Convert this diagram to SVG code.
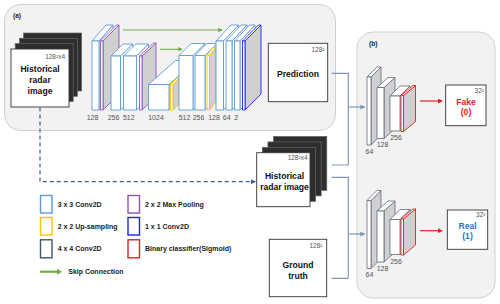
<svg xmlns="http://www.w3.org/2000/svg" width="500" height="304" viewBox="0 0 500 304">
<defs>
<style>
text{font-family:"Liberation Sans",Arial,sans-serif;}
.panel{fill:#f2f2f2;stroke:#cfcfcf;stroke-width:1;}
.lbl{font-size:6.6px;font-weight:bold;fill:#222;}
.num{font-size:7px;fill:#555;text-anchor:middle;}
.sup{font-size:6.5px;fill:#555;text-anchor:end;}
.big{font-size:8.6px;font-weight:bold;fill:#111;text-anchor:middle;}
.box{fill:#fff;stroke:#333;stroke-width:0.9;}
.layer{fill:#2e2e2e;stroke:#666;stroke-width:0.7;}
.c3{fill:#fff;stroke:#5b9bd5;stroke-width:0.9;stroke-linejoin:round;}
.mp{fill:#fff;stroke:#8e54b8;stroke-width:0.9;stroke-linejoin:round;}
.up{fill:#fff;stroke:#ffc000;stroke-width:0.9;stroke-linejoin:round;}
.c1{fill:#fff;stroke:#1f1fff;stroke-width:0.9;stroke-linejoin:round;}
.c4{fill:#fff;stroke:#5f6b78;stroke-width:0.8;stroke-linejoin:round;}
.bc{fill:#fff;stroke:#e02020;stroke-width:0.9;stroke-linejoin:round;}
.g{fill:#d0d0d0;}
.conn{fill:none;stroke:#7f97b5;stroke-width:1.2;}
.leg{fill:#fff;stroke-width:1.4;}
.legt{font-size:7px;font-weight:bold;fill:#222;}
</style>
<marker id="ab" viewBox="0 0 6 6" refX="5" refY="3" markerWidth="5" markerHeight="5" orient="auto" markerUnits="userSpaceOnUse"><path d="M0,0 L6,3 L0,6 z" fill="#7f97b5"/></marker>
<marker id="ad" viewBox="0 0 6 6" refX="5" refY="3" markerWidth="5" markerHeight="5" orient="auto" markerUnits="userSpaceOnUse"><path d="M0,0 L6,3 L0,6 z" fill="#3b5f8a"/></marker>
<marker id="ag" viewBox="0 0 6 6" refX="5" refY="3" markerWidth="4.5" markerHeight="4.5" orient="auto" markerUnits="userSpaceOnUse"><path d="M0,0 L6,3 L0,6 z" fill="#70ad47"/></marker>
<marker id="ar" viewBox="0 0 6 6" refX="5" refY="3" markerWidth="5" markerHeight="5" orient="auto" markerUnits="userSpaceOnUse"><path d="M0,0 L6,3 L0,6 z" fill="#e02020"/></marker>
</defs>
<rect width="500" height="304" fill="#fff"/>

<g id="panel-a">
<rect class="panel" x="4.5" y="4.5" width="331" height="126" rx="16"/>
<text x="13" y="18" class="lbl">(a)</text>
</g>
<g id="panel-b">
<rect class="panel" x="357" y="32" width="138" height="266" rx="16"/>
<text x="369" y="46" class="lbl">(b)</text>
</g>

<g id="radar-input">
<rect class="layer" x="23.6" y="33" width="58" height="58"/>
<rect class="layer" x="19.4" y="38.3" width="58" height="58"/>
<rect class="layer" x="15.2" y="43.6" width="58" height="58"/>
<rect class="box" x="11" y="49" width="58" height="58"/>
<text x="65" y="59" class="sup">128²x4</text>
<text x="40" y="71.5" class="big" font-size="9">Historical</text>
<text x="40" y="83" class="big" font-size="9">radar</text>
<text x="40" y="94" class="big" font-size="9">image</text>
</g>

<g id="unet">
<g class="c3"><polygon points="99,41 113,25 113,94 99,110"/><polygon points="92,41 99,41 113,25 106,25"/><rect x="92" y="41" width="7" height="69"/></g>
<g class="mp"><polygon class="g" points="103,41 119,25 119,94 103,110"/><polygon points="100.5,41 103,41 119,25 116.5,25"/><rect x="100.5" y="41" width="2.5" height="69"/></g>
<g class="c3"><polygon points="120.5,56 132.5,44 132.5,98 120.5,110"/><polygon points="111,56 120.5,56 132.5,44 123,44"/><rect x="111" y="56" width="9.5" height="54"/></g>
<g class="c3"><polygon points="136.5,56 148.5,44 148.5,98 136.5,110"/><polygon points="123.5,56 136.5,56 148.5,44 135.5,44"/><rect x="123.5" y="56" width="13" height="54"/></g>
<g class="mp"><polygon class="g" points="142,56 156,43 156,97 142,110"/><polygon points="139.5,56 142,56 156,43 153.5,43"/><rect x="139.5" y="56" width="2.5" height="54"/></g>
<g class="c3"><polygon points="169,84.5 196,60.5 196,86 169,110"/><polygon points="148.5,84.5 169,84.5 196,60.5 175.5,60.5"/><rect x="148.5" y="84.5" width="20.5" height="25.5"/></g>
<g class="up"><polygon class="g" points="173,84.5 179,78.5 179,104 173,110"/><polygon points="170.5,84.5 173,84.5 179,78.5 176.5,78.5"/><rect x="170.5" y="84.5" width="2.5" height="25.5"/></g>
<g class="c3"><polygon points="193,55.5 205,43.5 205,98 193,110"/><polygon points="179,55.5 193,55.5 205,43.5 191,43.5"/><rect x="179" y="55.5" width="14" height="54.5"/></g>
<g class="c3"><polygon points="205,55.5 217,43.5 217,98 205,110"/><polygon points="195,55.5 205,55.5 217,43.5 207,43.5"/><rect x="195" y="55.5" width="10" height="54.5"/></g>
<g class="up"><polygon class="g" points="209.5,55.5 215.5,47.5 215.5,102 209.5,110"/><polygon points="207,55.5 209.5,55.5 215.5,47.5 213,47.5"/><rect x="207" y="55.5" width="2.5" height="54.5"/></g>
<g class="c3"><polygon points="223.5,41 238.5,25 238.5,94 223.5,110"/><polygon points="216,41 223.5,41 238.5,25 231,25"/><rect x="216" y="41" width="7.5" height="69"/></g>
<g class="c3"><polygon points="232,41 247,25 247,94 232,110"/><polygon points="226,41 232,41 247,25 241,25"/><rect x="226" y="41" width="6" height="69"/></g>
<g class="c3"><polygon points="240,41 255,25 255,94 240,110"/><polygon points="234.5,41 240,41 255,25 249.5,25"/><rect x="234.5" y="41" width="5.5" height="69"/></g>
<g class="c1"><polygon class="g" points="245,41 261,25 261,94 245,110"/><polygon points="242.5,41 245,41 261,25 258.5,25"/><rect x="242.5" y="41" width="2.5" height="69"/></g>
<g>
<text x="92.5" y="120" class="num">128</text>
<text x="113.5" y="120" class="num">256</text>
<text x="128.8" y="120" class="num">512</text>
<text x="156" y="120" class="num">1024</text>
<text x="184.5" y="120" class="num">512</text>
<text x="198.5" y="120" class="num">256</text>
<text x="214" y="120" class="num">128</text>
<text x="226.7" y="120" class="num">64</text>
<text x="236.3" y="120" class="num">2</text>
</g>
</g>

<g id="skip-connections" fill="none" stroke="#70ad47" stroke-width="1.1">
<line x1="123" y1="30" x2="222" y2="30" marker-end="url(#ag)"/>
<line x1="160" y1="49.3" x2="182" y2="49.3" marker-end="url(#ag)"/>
</g>

<g id="prediction">
<rect class="box" x="268.3" y="43.3" width="59.4" height="58.4"/>
<text x="324.5" y="52" class="sup">128²</text>
<text x="298" y="76.5" class="big">Prediction</text>
</g>

<g id="radar-input-2">
<rect class="layer" x="273.5" y="136.4" width="53.3" height="54"/>
<rect class="layer" x="267.9" y="141.9" width="53.3" height="54"/>
<rect class="layer" x="262.3" y="147.4" width="53.3" height="54"/>
<rect class="box" x="256.7" y="152.7" width="53.3" height="54"/>
<text x="307.5" y="160" class="sup">128²x4</text>
<text x="284.5" y="179" class="big">Historical</text>
<text x="284.5" y="190" class="big">radar image</text>
</g>

<g id="ground-truth">
<rect class="box" x="269.3" y="239.3" width="57.4" height="57.4"/>
<text x="322.5" y="247.5" class="sup">128²</text>
<text x="298" y="268" class="big">Ground</text>
<text x="298" y="278.5" class="big">truth</text>
</g>

<g id="discriminator-1">
<g class="c4"><polygon class="g" points="371,77 381,67 381,135 371,145"/><polygon points="367,77 371,77 381,67 377,67"/><rect x="367" y="77" width="4" height="68"/></g>
<g class="c4"><polygon class="g" points="384,87.5 395,77.5 395,128.5 384,138.5"/><polygon points="377,87.5 384,87.5 395,77.5 388,77.5"/><rect x="377" y="87.5" width="7" height="51"/></g>
<g class="c4"><polygon points="400,96 410,86 410,121 400,131"/><polygon points="390,96 400,96 410,86 400,86"/><rect x="390" y="96" width="10" height="35"/></g>
<g class="bc"><polygon class="g" points="403.5,95.5 415.5,85.5 415.5,121.5 403.5,131.5"/><polygon points="401,95.5 403.5,95.5 415.5,85.5 413,85.5"/><rect x="401" y="95.5" width="2.5" height="36"/></g>
<text x="369.5" y="153.5" class="num">64</text>
<text x="382.5" y="147" class="num">128</text>
<text x="396" y="140" class="num">256</text>
</g>

<g id="discriminator-2" transform="translate(0,123.5)">
<g class="c4"><polygon class="g" points="371,77 381,67 381,135 371,145"/><polygon points="367,77 371,77 381,67 377,67"/><rect x="367" y="77" width="4" height="68"/></g>
<g class="c4"><polygon class="g" points="384,87.5 395,77.5 395,128.5 384,138.5"/><polygon points="377,87.5 384,87.5 395,77.5 388,77.5"/><rect x="377" y="87.5" width="7" height="51"/></g>
<g class="c4"><polygon points="400,96 410,86 410,121 400,131"/><polygon points="390,96 400,96 410,86 400,86"/><rect x="390" y="96" width="10" height="35"/></g>
<g class="bc"><polygon class="g" points="403.5,95.5 415.5,85.5 415.5,121.5 403.5,131.5"/><polygon points="401,95.5 403.5,95.5 415.5,85.5 413,85.5"/><rect x="401" y="95.5" width="2.5" height="36"/></g>
<text x="369.5" y="153.5" class="num">64</text>
<text x="382.5" y="147" class="num">128</text>
<text x="396" y="140" class="num">256</text>
</g>

<g id="fake">
<rect class="box" x="445.7" y="85" width="40.3" height="40.7"/>
<text x="484" y="92.5" class="sup">32²</text>
<text x="466" y="104.5" class="big" fill="#e8202a" style="fill:#e8202a" font-size="8.4">Fake</text>
<text x="466" y="115" class="big" style="fill:#e8202a" font-size="8.4">(0)</text>
</g>

<g id="real">
<rect class="box" x="447.3" y="210" width="40.4" height="39.3"/>
<text x="485.5" y="217" class="sup">32²</text>
<text x="467.5" y="228.5" class="big" style="fill:#1f77d0" font-size="8.4">Real</text>
<text x="467.5" y="239" class="big" style="fill:#1f77d0" font-size="8.4">(1)</text>
</g>

<g id="connectors">
<path class="conn" d="M331.7,73.3 H348.3 V165 M331.7,165 H348.3"/>
<path class="conn" d="M348.3,107 H364.5" marker-end="url(#ab)"/>
<path class="conn" d="M331.7,177.3 H348.3 V278.3 M331.7,278.3 H348.3"/>
<path class="conn" d="M348.3,234 H364.5" marker-end="url(#ab)"/>
<path d="M40,107.5 V181.7 H255" fill="none" stroke="#3b5f8a" stroke-width="1.2" stroke-dasharray="4,3" marker-end="url(#ad)"/>
<path d="M420,101 H442" fill="none" stroke="#e02020" stroke-width="1.2" marker-end="url(#ar)"/>
<path d="M420,230.7 H442" fill="none" stroke="#e02020" stroke-width="1.2" marker-end="url(#ar)"/>
</g>

<g id="legend">
<rect class="leg" x="40.5" y="195.5" width="11.5" height="17.5" stroke="#5b9bd5"/>
<text x="57.7" y="206.5" class="legt">3 x 3 Conv2D</text>
<rect class="leg" x="40.5" y="217.5" width="11.5" height="17.5" stroke="#ffc000"/>
<text x="57.7" y="228.5" class="legt">2 x 2 Up-sampling</text>
<rect class="leg" x="40.5" y="239.8" width="11.5" height="18" stroke="#44546a"/>
<text x="57.7" y="251" class="legt">4 x 4 Conv2D</text>
<rect class="leg" x="128" y="195.5" width="11.5" height="17.5" stroke="#8e54b8"/>
<text x="145" y="206.5" class="legt">2 x 2 Max Pooling</text>
<rect class="leg" x="128" y="217.5" width="11.5" height="17.5" stroke="#1f1fff"/>
<text x="145" y="228.5" class="legt">1 x 1 Conv2D</text>
<rect class="leg" x="128" y="239.8" width="11.5" height="18" stroke="#e02020"/>
<text x="145" y="251" class="legt">Binary classifier(Sigmoid)</text>
<line x1="40" y1="271.7" x2="58" y2="271.7" stroke="#70ad47" stroke-width="2.2"/>
<path d="M57,268.7 L62,271.7 L57,274.7 z" fill="#70ad47"/>
<text x="68.3" y="274.2" class="legt">Skip Connection</text>
</g>
</svg>
